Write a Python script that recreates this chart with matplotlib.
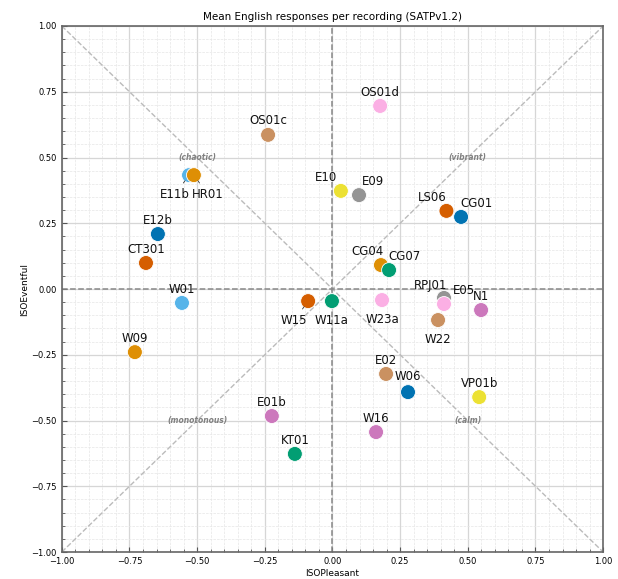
import matplotlib.pyplot as plt
from matplotlib.ticker import MultipleLocator

# Mean responses per recording
recordings = ['OS01d', 'OS01c', 'E11b', 'HR01', 'E10', 'E09', 'LS06', 'CG01',
              'E12b', 'CT301', 'CG04', 'CG07', 'W01', 'W15', 'W11a', 'W23a',
              'RPJ01', 'E05', 'N1', 'W22', 'W09', 'E02', 'W06', 'VP01b',
              'E01b', 'W16', 'KT01']
iso_pleasant = [0.176, -0.238, -0.530, -0.512, 0.031, 0.098, 0.421, 0.475,
                -0.645, -0.689, 0.179, 0.209, -0.556, -0.090, -0.002, 0.183,
                0.412, 0.412, 0.549, 0.390, -0.730, 0.198, 0.279, 0.542,
                -0.224, 0.161, -0.139]
iso_eventful = [0.696, 0.586, 0.433, 0.433, 0.373, 0.357, 0.297, 0.274,
                0.209, 0.099, 0.091, 0.072, -0.053, -0.046, -0.046, -0.042,
                -0.034, -0.057, -0.080, -0.118, -0.240, -0.323, -0.392, -0.411,
                -0.483, -0.544, -0.627]

# colorblind palette
pal = {'blue': '#0173b2', 'orange': '#de8f05', 'green': '#029e73', 'red': '#d55e00',
       'purple': '#cc78bc', 'brown': '#ca9161', 'pink': '#fbafe4', 'gray': '#949494',
       'yellow': '#ece133', 'lblue': '#56b4e9'}
point_colors = ['pink', 'brown', 'lblue', 'orange', 'yellow', 'gray', 'red', 'blue',
                'blue', 'red', 'orange', 'green', 'lblue', 'red', 'green', 'pink',
                'gray', 'pink', 'purple', 'brown', 'orange', 'brown', 'blue', 'yellow',
                'purple', 'purple', 'green']

# label offsets in points (layout only)
offsets = {'OS01d': (0, 10), 'OS01c': (0, 10), 'E11b': (-10, -14), 'HR01': (10, -14),
           'E10': (-11, 10), 'E09': (10, 10), 'LS06': (-10, 10), 'CG01': (11, 10),
           'E12b': (0, 10), 'CT301': (0, 10), 'CG04': (-10, 10), 'CG07': (11, 10),
           'W01': (0, 10), 'W15': (-10, -14), 'W11a': (0, -14), 'W23a': (0, -14),
           'RPJ01': (-10, 9), 'E05': (14, 10), 'N1': (0, 10), 'W22': (0, -14),
           'W09': (0, 10), 'E02': (0, 10), 'W06': (0, 11), 'VP01b': (0, 10),
           'E01b': (0, 10), 'W16': (0, 10), 'KT01': (0, 10)}
arrows = ['E11b', 'HR01', 'W15']

fig = plt.figure(figsize=(6.18, 5.79), dpi=100)
ax = fig.add_axes([0.100, 0.0466, 0.876, 0.9085])

ax.set_xlim(-1, 1)
ax.set_ylim(-1, 1)
ax.xaxis.set_major_locator(MultipleLocator(0.25))
ax.yaxis.set_major_locator(MultipleLocator(0.25))
ax.xaxis.set_minor_locator(MultipleLocator(0.05))
ax.yaxis.set_minor_locator(MultipleLocator(0.05))
ax.grid(which='major', color='#d6d6d6', linewidth=0.9)
ax.grid(which='minor', color='#e6e6e6', linestyle='--', linewidth=0.5)
ax.set_axisbelow(True)
ax.tick_params(which='both', direction='in', labelsize=6, color='#555555')
ax.tick_params(which='minor', length=2)
for sp in ax.spines.values():
    sp.set_color('#666666')
    sp.set_linewidth(1.2)

# reference lines
ax.plot([-1, 1], [-1, 1], linestyle='--', color='#bbbbbb', linewidth=1, zorder=1)
ax.plot([-1, 1], [1, -1], linestyle='--', color='#bbbbbb', linewidth=1, zorder=1)
ax.axhline(0, linestyle='--', color='#888888', linewidth=1.1, zorder=1)
ax.axvline(0, linestyle='--', color='#888888', linewidth=1.1, zorder=1)

for name, (qx, qy) in {'(chaotic)': (-0.5, 0.5), '(vibrant)': (0.5, 0.5),
                       '(monotonous)': (-0.5, -0.5), '(calm)': (0.5, -0.5)}.items():
    ax.text(qx, qy, name, ha='center', va='center', fontsize=5.5, style='italic',
            fontweight='bold', color='#808080', zorder=2)

ax.scatter(iso_pleasant, iso_eventful, s=115, c=[pal[c] for c in point_colors],
           edgecolors='white', linewidths=0.6, zorder=3)

for name, px, py in zip(recordings, iso_pleasant, iso_eventful):
    dx, dy = offsets[name]
    props = dict(arrowstyle='-', color='#333333', lw=0.6, shrinkA=2, shrinkB=5) if name in arrows else None
    ax.annotate(name, (px, py), xytext=(dx, dy), textcoords='offset points',
                ha='center', va='center', fontsize=8.5, color='#111111',
                arrowprops=props, zorder=4)

ax.set_title('Mean English responses per recording (SATPv1.2)', fontsize=7.5, pad=4)
ax.set_xlabel('ISOPleasant', fontsize=6.5, labelpad=2)
ax.set_ylabel('ISOEventful', fontsize=6.5, labelpad=2)

fig.savefig('out.png', dpi=100)
